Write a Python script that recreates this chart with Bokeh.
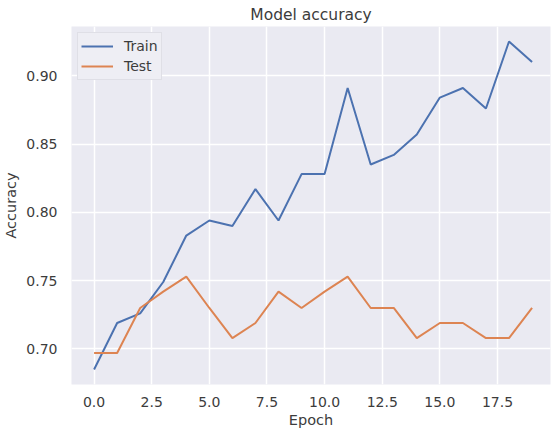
from bokeh.plotting import figure
from bokeh.models import FixedTicker, PrintfTickFormatter, Range1d, Legend, LegendItem
from bokeh.embed import file_html
from bokeh.resources import INLINE

epochs = list(range(20))
train_acc = [0.685, 0.719, 0.726, 0.749, 0.783, 0.794, 0.790, 0.817, 0.794, 0.828,
             0.828, 0.891, 0.835, 0.842, 0.857, 0.884, 0.891, 0.876, 0.925, 0.910]
test_acc = [0.697, 0.697, 0.730, 0.742, 0.753, 0.730, 0.708, 0.719, 0.742, 0.730,
            0.742, 0.753, 0.730, 0.730, 0.708, 0.719, 0.719, 0.708, 0.708, 0.730]
x_ticks = [0.0, 2.5, 5.0, 7.5, 10.0, 12.5, 15.0, 17.5]
y_ticks = [0.70, 0.75, 0.80, 0.85, 0.90]

FONT = "DejaVu Sans"
TXT = "#3c3c3c"

p = figure(width=551, height=431, output_backend="svg", toolbar_location=None,
           x_range=Range1d(-0.98, 19.8), y_range=Range1d(0.674, 0.936),
           min_border_left=68, min_border_right=1, min_border_top=25, min_border_bottom=47,
           title="Model accuracy")

p.background_fill_color = "#EAEAF2"
p.border_fill_color = "white"
p.outline_line_color = None

p.title.align = "center"
p.title.text_font = FONT
p.title.text_font_size = "15.5px"
p.title.text_font_style = "normal"
p.title.text_color = TXT
p.title.standoff = 6

for ax in (p.xaxis[0], p.yaxis[0]):
    ax.axis_line_color = None
    ax.major_tick_line_color = None
    ax.minor_tick_line_color = None
    ax.major_tick_out = 0
    ax.major_tick_in = 0
    ax.minor_tick_out = 0
    ax.minor_tick_in = 0
    ax.major_label_text_font = FONT
    ax.major_label_text_font_size = "14px"
    ax.major_label_text_color = TXT
    ax.axis_label_text_font = FONT
    ax.axis_label_text_font_size = "14.5px"
    ax.axis_label_text_font_style = "normal"
    ax.axis_label_text_color = TXT

p.xaxis.ticker = FixedTicker(ticks=x_ticks)
p.yaxis.ticker = FixedTicker(ticks=y_ticks)
p.xaxis.formatter = PrintfTickFormatter(format="%.1f")
p.yaxis.formatter = PrintfTickFormatter(format="%.2f")
p.xaxis.axis_label = "Epoch"
p.yaxis.axis_label = "Accuracy"
p.xaxis.major_label_standoff = 12
p.yaxis.major_label_standoff = 14
p.xaxis.axis_label_standoff = 2
p.yaxis.axis_label_standoff = 4

p.xgrid.grid_line_color = "white"
p.ygrid.grid_line_color = "white"
p.xgrid.grid_line_width = 1.5
p.ygrid.grid_line_width = 1.5
p.xgrid.ticker = FixedTicker(ticks=x_ticks)
p.ygrid.ticker = FixedTicker(ticks=y_ticks)

r1 = p.line(epochs, train_acc, line_color="#4C72B0", line_width=2)
r2 = p.line(epochs, test_acc, line_color="#DD8452", line_width=2)

legend = Legend(items=[LegendItem(label="Train", renderers=[r1]),
                       LegendItem(label="Test", renderers=[r2])],
                location="top_left")
legend.margin = 6
legend.padding = 3
legend.spacing = 0
legend.label_height = 20
legend.glyph_height = 20
legend.glyph_width = 32
legend.label_standoff = 11
legend.label_text_font = FONT
legend.label_text_font_size = "14px"
legend.label_text_color = TXT
legend.background_fill_color = "#EEEEF4"
legend.background_fill_alpha = 1.0
legend.border_line_color = "#D0D0D8"
legend.border_line_width = 1
p.add_layout(legend, "center")

open("out.html", "w").write(file_html(p, INLINE))
